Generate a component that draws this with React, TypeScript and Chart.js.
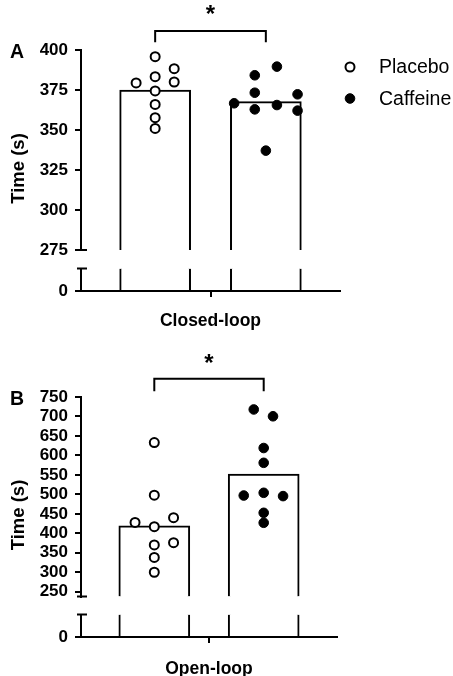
import React, { useEffect, useRef } from 'react';
import { Chart, registerables } from 'chart.js';

Chart.register(...registerables);

// ---------------- data ----------------
const groups = ['Placebo', 'Caffeine'];
const groupCenters = [-1, 1]; // x position (data units) of each group's bar

// Panel A – Closed-loop
const closedTicks = [275, 300, 325, 350, 375, 400];
const closedBarMeans = [375, 367.7];
const closedPlaceboValues = [379.4, 395.8, 383.3, 388.3, 380, 374.4, 366.0, 357.7, 351.0];
const closedPlaceboJitter = [-0.344, 0, 0, 0.344, 0.344, 0, 0, 0, 0];
const closedCaffeineValues = [389.6, 384.2, 373.3, 372.3, 366.7, 365.6, 362.9, 362.1, 337.1];
const closedCaffeineJitter = [0.2, -0.2, -0.2, 0.573, -0.573, 0.2, -0.2, 0.573, 0];
const closedBracket = [404.8, 411.9];
const closedStar = 421;

// Panel B – Open-loop
const openTicks = [250, 300, 350, 400, 450, 500, 550, 600, 650, 700, 750];
const openBarMeans = [419, 552];
const openPlaceboValues = [633, 498, 428, 417, 440, 376, 370, 338, 300];
const openPlaceboJitter = [0, 0, -0.352, 0, 0.352, 0.352, 0, 0, 0];
const openCaffeineValues = [718, 700.5, 619, 581, 497, 504, 495.5, 452.6, 427];
const openCaffeineJitter = [-0.182, 0.17, 0, 0, -0.365, 0, 0.354, 0, 0];
const openBracket = [765, 797];
const openStar = 831;

// ---------------- styling / layout ----------------
const FONT = "'Liberation Sans', Arial, Helvetica, sans-serif";
Chart.defaults.font.family = FONT;
Chart.defaults.color = '#000';

type Panel = {
  letter: string;
  xTitle: string;
  ticks: number[];
  upperMin: number;
  upperMax: number;
  lowerMax: number;
  barMeans: number[];
  placebo: number[];
  placeboJitter: number[];
  caffeine: number[];
  caffeineJitter: number[];
  bracket: number[];
  star: number;
  canvasTop: number;
  width: number;
  height: number;
  chartLeft: number;
  chartRight: number;
  chartTop: number;
  chartBottom: number;
  weights: number[]; // top, gap, bottom
  titlePadBottom: number;
  legend: boolean;
};

const panels: Panel[] = [
  {
    letter: 'A', xTitle: 'Closed-loop', ticks: closedTicks, upperMin: 275, upperMax: 400, lowerMax: 10,
    barMeans: closedBarMeans, placebo: closedPlaceboValues, placeboJitter: closedPlaceboJitter,
    caffeine: closedCaffeineValues, caffeineJitter: closedCaffeineJitter, bracket: closedBracket, star: closedStar,
    canvasTop: 0, width: 453, height: 340, chartLeft: 81, chartRight: 340, chartTop: 50, chartBottom: 291,
    weights: [200, 18.5, 22.5], titlePadBottom: 8.8, legend: true,
  },
  {
    letter: 'B', xTitle: 'Open-loop', ticks: openTicks, upperMin: 237.7, upperMax: 750, lowerMax: 10,
    barMeans: openBarMeans, placebo: openPlaceboValues, placeboJitter: openPlaceboJitter,
    caffeine: openCaffeineValues, caffeineJitter: openCaffeineJitter, bracket: openBracket, star: openStar,
    canvasTop: 340, width: 453, height: 350, chartLeft: 81, chartRight: 337, chartTop: 57, chartBottom: 297,
    weights: [199.5, 18, 22.5], titlePadBottom: 10.2, legend: false,
  },
];

const zeroPad = (s: any) => {
  s.paddingTop = 0; s.paddingBottom = 0; s.paddingLeft = 0; s.paddingRight = 0;
};

const decorPlugin = {
  id: 'decor',
  afterDraw(chart: any, _args: any, opts: any) {
    const p: Panel = opts.panel;
    const { ctx } = chart;
    const yTop = chart.scales.yTop;
    const yBot = chart.scales.yBot;
    const xs = chart.scales.x;
    const axisX = yTop.right;
    ctx.save();
    ctx.strokeStyle = '#000';
    ctx.fillStyle = '#000';
    ctx.lineWidth = 2;
    // axis break caps
    ctx.beginPath();
    ctx.moveTo(axisX - 4, yTop.bottom);
    ctx.lineTo(axisX + 6, yTop.bottom);
    ctx.moveTo(axisX - 4, yBot.top);
    ctx.lineTo(axisX + 6, yBot.top);
    ctx.stroke();

    // panel letter
    ctx.font = `bold 19.5px ${FONT}`;
    ctx.textAlign = 'center';
    ctx.textBaseline = 'middle';
    ctx.fillText(p.letter, 17, yTop.top + 3);

    // significance star
    ctx.font = `bold 24px ${FONT}`;
    const m = ctx.measureText('*');
    const cy = yTop.getPixelForValue(p.star);
    ctx.textBaseline = 'alphabetic';
    ctx.fillText('*', xs.getPixelForValue(0), cy + (m.actualBoundingBoxAscent - m.actualBoundingBoxDescent) / 2);

    // y title (spanning the whole broken axis)
    ctx.save();
    ctx.font = `bold 18.5px ${FONT}`;
    ctx.textBaseline = 'middle';
    ctx.translate(19, (yTop.top + yBot.bottom) / 2 - 2);
    ctx.rotate(-Math.PI / 2);
    ctx.fillText('Time (s)', 0, 0);
    ctx.restore();

    // legend
    if (p.legend) {
      const items = chart.data.datasets.filter((d: any) => groups.includes(d.label));
      items.forEach((d: any, i: number) => {
        const mx = chart.chartArea.right + 10;
        const my = chart.chartArea.top + 17 + i * 31.5;
        ctx.beginPath();
        ctx.arc(mx, my, d.pointRadius, 0, Math.PI * 2);
        ctx.fillStyle = d.pointBackgroundColor;
        ctx.fill();
        ctx.lineWidth = d.pointBorderWidth;
        ctx.strokeStyle = d.pointBorderColor;
        ctx.stroke();
        ctx.fillStyle = '#000';
        ctx.font = `19.5px ${FONT}`;
        ctx.textAlign = 'left';
        ctx.textBaseline = 'middle';
        ctx.fillText(d.label, mx + 29, my + 1);
      });
    }
    ctx.restore();
  },
};

function buildConfig(p: Panel): any {
  const tickFont = { size: 17, weight: 'bold' as const };
  const axisGrid = { display: true, drawOnChartArea: false, drawTicks: true, tickLength: 6, color: '#000', lineWidth: 2, offset: false };
  const axisBorder = { display: true, color: '#000', width: 2 };
  const fitLeft = (s: any) => { s.width = p.chartLeft; zeroPad(s); };
  return {
    type: 'bar',
    data: {
      datasets: [
        {
          type: 'scatter', label: groups[0], xAxisID: 'x', yAxisID: 'yTop', order: 0,
          data: p.placebo.map((v, i) => ({ x: groupCenters[0] + p.placeboJitter[i], y: v })),
          pointRadius: 4.5, pointBorderWidth: 2, pointBackgroundColor: '#fff', pointBorderColor: '#000',
        },
        {
          type: 'scatter', label: groups[1], xAxisID: 'x', yAxisID: 'yTop', order: 0,
          data: p.caffeine.map((v, i) => ({ x: groupCenters[1] + p.caffeineJitter[i], y: v })),
          pointRadius: 4.8, pointBorderWidth: 1, pointBackgroundColor: '#000', pointBorderColor: '#000',
        },
        {
          type: 'line', label: 'bracket', xAxisID: 'x', yAxisID: 'yTop', order: 1, clip: false,
          data: [
            { x: groupCenters[0], y: p.bracket[0] },
            { x: groupCenters[0], y: p.bracket[1] },
            { x: groupCenters[1], y: p.bracket[1] },
            { x: groupCenters[1], y: p.bracket[0] },
          ],
          borderColor: '#000', borderWidth: 2, pointRadius: 0, fill: false, tension: 0,
        },
        {
          type: 'bar', label: 'mean-upper', xAxisID: 'x', yAxisID: 'yTop', order: 3,
          data: groupCenters.map((x, i) => ({ x, y: [p.upperMin, p.barMeans[i]] })),
          backgroundColor: '#fff', borderColor: '#000', borderSkipped: false,
          borderWidth: { left: 2, right: 2, top: 2, bottom: 0 },
          grouped: false, barThickness: 71,
        },
        {
          type: 'bar', label: 'mean-lower', xAxisID: 'x', yAxisID: 'yBot', order: 3,
          data: groupCenters.map((x) => ({ x, y: [0, p.lowerMax] })),
          backgroundColor: '#fff', borderColor: '#000', borderSkipped: false,
          borderWidth: { left: 2, right: 2, top: 0, bottom: 0 },
          grouped: false, barThickness: 71,
        },
      ],
    },
    options: {
      responsive: false,
      animation: false,
      events: [],
      layout: {
        autoPadding: false,
        padding: { left: 0, top: p.chartTop, right: p.width - p.chartRight, bottom: 0 },
      },
      plugins: {
        legend: { display: false },
        tooltip: { enabled: false },
        decor: { panel: p },
      },
      scales: {
        x: {
          type: 'linear', position: 'bottom', min: -2.34, max: 2.34, offset: false,
          afterBuildTicks: (s: any) => { s.ticks = [{ value: 0 }]; },
          ticks: { callback: () => '', font: tickFont, autoSkip: false },
          grid: axisGrid,
          border: { ...axisBorder, z: 1 },
          title: {
            display: true, text: p.xTitle, color: '#000',
            font: { size: 17.5, weight: 'bold' }, padding: { top: 0, bottom: p.titlePadBottom },
          },
          afterFit: (s: any) => { s.height = p.height - p.chartBottom; zeroPad(s); },
        },
        yBot: {
          type: 'linear', position: 'left', stack: 'y', stackWeight: p.weights[2], weight: 0,
          min: 0, max: p.lowerMax, offset: false,
          afterBuildTicks: (s: any) => { s.ticks = [{ value: 0 }]; },
          ticks: { font: tickFont, padding: 7, color: '#000', autoSkip: false },
          grid: axisGrid, border: axisBorder,
          afterFit: fitLeft,
        },
        yGap: {
          type: 'linear', position: 'left', stack: 'y', stackWeight: p.weights[1], weight: 1,
          min: 0, max: 1, offset: false,
          ticks: { display: false },
          grid: { display: false, drawTicks: false },
          border: { display: false },
          afterFit: fitLeft,
        },
        yTop: {
          type: 'linear', position: 'left', stack: 'y', stackWeight: p.weights[0], weight: 2,
          min: p.upperMin, max: p.upperMax, offset: false,
          afterBuildTicks: (s: any) => { s.ticks = p.ticks.map((v) => ({ value: v })); },
          ticks: { font: tickFont, padding: 7, color: '#000', autoSkip: false },
          grid: axisGrid, border: axisBorder,
          afterFit: fitLeft,
        },
      },
    },
    plugins: [decorPlugin],
  };
}

function PanelChart({ panel }: { panel: Panel }) {
  const ref = useRef<HTMLCanvasElement | null>(null);
  useEffect(() => {
    if (!ref.current) return;
    const chart = new Chart(ref.current, buildConfig(panel));
    return () => chart.destroy();
  }, [panel]);
  return (
    <canvas
      ref={ref}
      width={panel.width}
      height={panel.height}
      style={{ position: 'absolute', left: 0, top: panel.canvasTop, width: panel.width, height: panel.height, display: 'block' }}
    />
  );
}

export default function App() {
  return (
    <div style={{ position: 'fixed', left: 0, top: 0, width: 453, height: 676, overflow: 'hidden', background: '#fff' }}>
      {panels.map((p) => (
        <PanelChart key={p.letter} panel={p} />
      ))}
    </div>
  );
}
